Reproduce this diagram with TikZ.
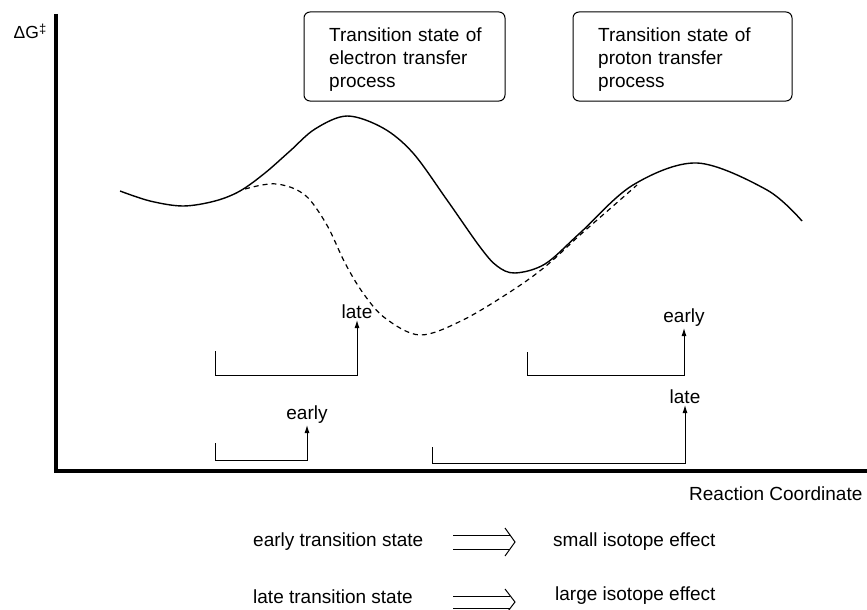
\documentclass[tikz,border=0pt]{standalone}
\usepackage{fontspec}
\setmainfont{Liberation Sans}
\usetikzlibrary{arrows.meta}
\tikzset{
  lbl/.style={font=\fontsize{19}{22.5}\selectfont, inner sep=1.5pt},
  tsbox/.style={draw, line width=1pt, rounded corners=6pt, minimum width=201pt, minimum height=89pt, inner sep=0pt},
  tstext/.style={font=\fontsize{19}{22.5}\selectfont, text width=170pt, align=left, inner sep=0pt, anchor=base west},
  axis/.style={line width=4pt},
  curve/.style={line width=1.4pt, smooth, tension=0.55},
  dcurve/.style={line width=1.2pt, smooth, tension=0.55, dash pattern=on 5pt off 4pt},
  brk/.style={line width=1pt, -{Latex[length=8pt,width=5pt]}},
  impl/.style={line width=1pt}
}
\begin{document}
\begin{tikzpicture}[x=1pt,y=-1pt]
\useasboundingbox[fill=white] (0,0) rectangle (867,610);

% axes
\coordinate (ytop) at (56,14);
\coordinate (orig) at (56,471);
\coordinate (xend) at (867,471);
\draw[axis] (ytop) -- (orig) -- (xend);
\node[lbl, font=\fontsize{17.5}{20}\selectfont, anchor=base west] (dg) at (12,38) {ΔG\raisebox{5pt}{\fontsize{13}{13}\selectfont ‡}};
\node[lbl, anchor=base west, inner sep=0pt] (rc) at (689,500) {Reaction Coordinate};

% boxes
\node[tsbox] (box1) at (404.5,56.5) {};
\node[tstext] (box1t) at (329,42) {Transition state of\\electron transfer\\process};
\node[tsbox, minimum width=219pt] (box2) at (682.5,56.5) {};
\node[tstext] (box2t) at (598,42) {Transition state of\\proton transfer\\process};

% solid energy curve
\draw[curve] plot coordinates {(120,191) (150,201) (183,206) (215,201) (240,191) (265,173) (290,151) (315,129) (347,116) (383,128) (413,153) (447,200) (480,247) (497,266) (515,273) (545,264) (580,233) (633,185) (697,163) (767,190) (802,221)};
% dashed energy curve
\draw[dcurve] plot coordinates {(245,189) (262,185) (277,184) (295,189) (310,200) (328,227) (345,263) (363,293) (385,318) (420,335) (463,320) (513,290) (546,266) (580,235) (612,207) (637,185)};

% brackets and labels
\node[lbl, anchor=south] (late1) at (357,320) {late};
\coordinate (b1a) at (215,351);
\coordinate (b1b) at (215,375);
\coordinate (b1c) at (357,375);
\draw[brk] (b1a) -- (b1b) -- (b1c) -- (late1.south);

\node[lbl, anchor=south] (early1) at (684,328) {early};
\coordinate (b2a) at (527,352);
\coordinate (b2b) at (527,375);
\coordinate (b2c) at (684,375);
\draw[brk] (b2a) -- (b2b) -- (b2c) -- (early1.south);

\node[lbl, anchor=south] (early2) at (307,425) {early};
\coordinate (b3a) at (215,443);
\coordinate (b3b) at (215,460);
\coordinate (b3c) at (307,460);
\draw[brk] (b3a) -- (b3b) -- (b3c) -- (early2.south);

\node[lbl, anchor=south] (late2) at (685,405) {late};
\coordinate (b4a) at (432,447);
\coordinate (b4b) at (432,463);
\coordinate (b4c) at (685,463);
\draw[brk] (b4a) -- (b4b) -- (b4c) -- (late2.south);

% legend
\node[lbl, anchor=base west, inner sep=0pt] (ets) at (253,546) {early transition state};
\node[lbl, anchor=base west, inner sep=0pt] (sie) at (553,546) {small isotope effect};
\node[lbl, anchor=base west, inner sep=0pt] (lts) at (253,603) {late transition state};
\node[lbl, anchor=base west, inner sep=0pt] (lie) at (555,600) {large isotope effect};

\coordinate (a1) at (453,542);
\coordinate (a2) at (453,602);
\draw[impl] (a1) ++(0,-7) -- ++(57,0);
\draw[impl] (a1) ++(0,7) -- ++(57,0);
\draw[impl] (a1) ++(52,-14) -- ++(10,14) -- ++(-10,14);
\draw[impl] (a2) ++(0,-6) -- ++(57,0);
\draw[impl] (a2) ++(0,6) -- ++(57,0);
\draw[impl] (a2) ++(52,-13) -- ++(10,13) -- ++(-10,13);
\end{tikzpicture}
\end{document}
